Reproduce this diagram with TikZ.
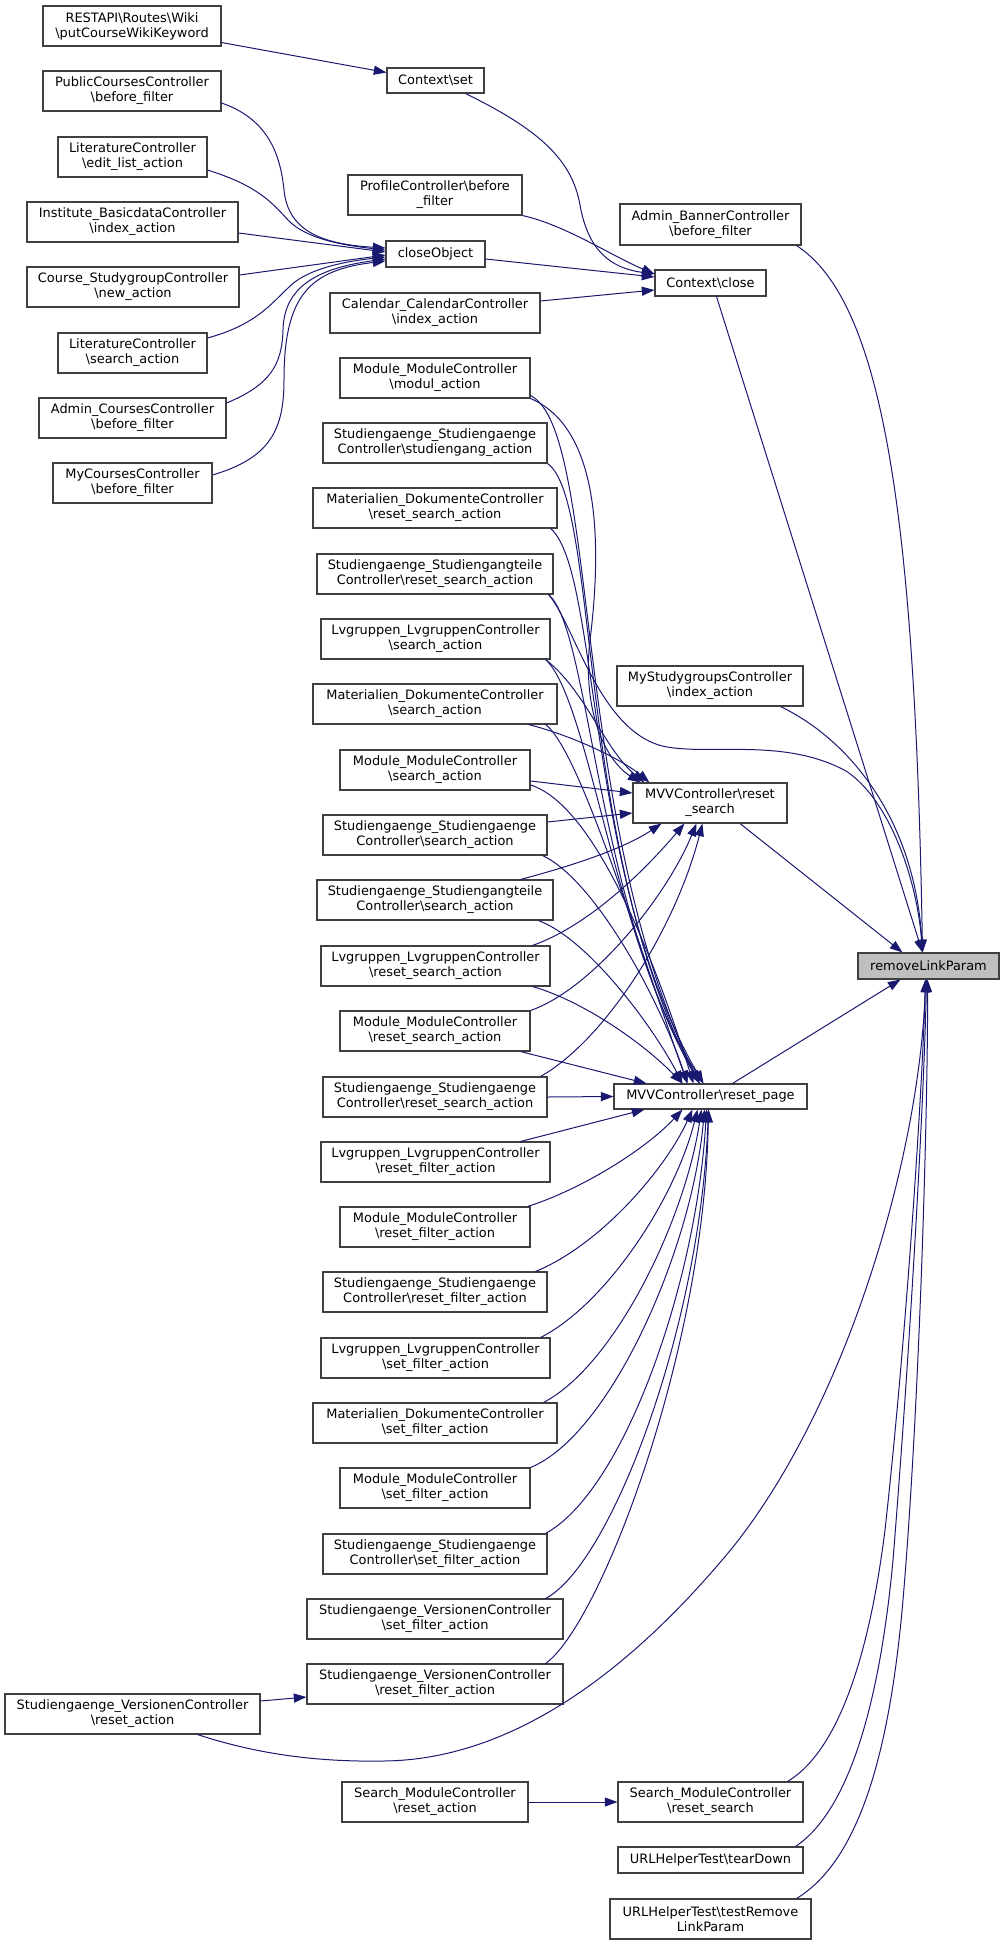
\documentclass[tikz,border=0pt]{standalone}
\usepackage{fontspec}
\setmainfont{DejaVu Sans}
\usetikzlibrary{arrows.meta,calc}
\definecolor{edgeblue}{HTML}{191970}
\definecolor{boxline}{HTML}{404040}
\definecolor{boxfill}{HTML}{BFBFBF}
\newcommand\bsl{\textbackslash}
\newcommand\mybox[7][]{\node[box,#1,minimum width={(#5-#3)*0.75pt},minimum height={(#6-#4)*0.75pt}] (#2) at ({(#3+#5)/2},{(#4+#6)/2}) {#7};}
\begin{document}
\begin{tikzpicture}[x=0.75pt,y=-0.75pt,
  box/.style={draw=boxline,line width=0.8pt,fill=white,inner sep=0pt,align=center,font=\fontsize{9.7pt}{11.25pt}\selectfont},
  call/.style={draw=edgeblue,line width=0.75pt,-{Triangle[length=9.5pt,width=6.8pt]}}]
\useasboundingbox (0,0) rectangle (1004,1945);
% column 1
\mybox{rest}{43}{6}{221}{46}{RESTAPI\bsl Routes\bsl Wiki\\\bsl putCourseWikiKeyword}
\mybox{pubc}{43}{71}{221}{111}{PublicCoursesController\\\bsl before\_filter}
\mybox{litedit}{58}{137}{207}{177}{LiteratureController\\\bsl edit\_list\_action}
\mybox{inst}{27}{202}{238}{242}{Institute\_BasicdataController\\\bsl index\_action}
\mybox{cstudy}{27}{267}{239}{307}{Course\_StudygroupController\\\bsl new\_action}
\mybox{litsearch}{58}{333}{207}{373}{LiteratureController\\\bsl search\_action}
\mybox{admc}{39}{398}{226}{438}{Admin\_CoursesController\\\bsl before\_filter}
\mybox{mycourses}{53}{463}{212}{503}{MyCoursesController\\\bsl before\_filter}
\mybox{versreset}{5}{1694}{260}{1734}{Studiengaenge\_VersionenController\\\bsl reset\_action}
% column 2
\mybox{ctxset}{387}{68}{484}{93}{Context\bsl set}
\mybox{profile}{348}{175}{522}{215}{ProfileController\bsl before\\\_filter}
\mybox{closeobj}{386}{241}{485}{267}{closeObject}
\mybox{calendar}{330}{293}{540}{333}{Calendar\_CalendarController\\\bsl index\_action}
\mybox{modul}{340}{358}{530}{398}{Module\_ModuleController\\\bsl modul\_action}
\mybox{studiengang}{323}{423}{547}{463}{Studiengaenge\_Studiengaenge\\Controller\bsl studiengang\_action}
\mybox{matreset}{313}{488}{557}{528}{Materialien\_DokumenteController\\\bsl reset\_search\_action}
\mybox{teilereset}{317}{554}{553}{594}{Studiengaenge\_Studiengangteile\\Controller\bsl reset\_search\_action}
\mybox{lvsearch}{321}{619}{550}{659}{Lvgruppen\_LvgruppenController\\\bsl search\_action}
\mybox{matsearch}{313}{684}{557}{724}{Materialien\_DokumenteController\\\bsl search\_action}
\mybox{modsearch}{340}{750}{530}{790}{Module\_ModuleController\\\bsl search\_action}
\mybox{stusearch}{323}{815}{547}{855}{Studiengaenge\_Studiengaenge\\Controller\bsl search\_action}
\mybox{teilesearch}{317}{880}{553}{920}{Studiengaenge\_Studiengangteile\\Controller\bsl search\_action}
\mybox{lvreset}{321}{946}{550}{986}{Lvgruppen\_LvgruppenController\\\bsl reset\_search\_action}
\mybox{modreset}{340}{1011}{530}{1051}{Module\_ModuleController\\\bsl reset\_search\_action}
\mybox{stureset}{323}{1077}{547}{1117}{Studiengaenge\_Studiengaenge\\Controller\bsl reset\_search\_action}
\mybox{lvrfilter}{321}{1142}{550}{1182}{Lvgruppen\_LvgruppenController\\\bsl reset\_filter\_action}
\mybox{modrfilter}{340}{1207}{530}{1247}{Module\_ModuleController\\\bsl reset\_filter\_action}
\mybox{sturfilter}{323}{1272}{547}{1312}{Studiengaenge\_Studiengaenge\\Controller\bsl reset\_filter\_action}
\mybox{lvsfilter}{321}{1338}{550}{1378}{Lvgruppen\_LvgruppenController\\\bsl set\_filter\_action}
\mybox{matsfilter}{313}{1403}{557}{1443}{Materialien\_DokumenteController\\\bsl set\_filter\_action}
\mybox{modsfilter}{340}{1468}{530}{1508}{Module\_ModuleController\\\bsl set\_filter\_action}
\mybox{stusfilter}{323}{1534}{547}{1574}{Studiengaenge\_Studiengaenge\\Controller\bsl set\_filter\_action}
\mybox{verssfilter}{307}{1599}{563}{1639}{Studiengaenge\_VersionenController\\\bsl set\_filter\_action}
\mybox{versrfilter}{307}{1664}{563}{1704}{Studiengaenge\_VersionenController\\\bsl reset\_filter\_action}
\mybox{smreset}{342}{1782}{528}{1822}{Search\_ModuleController\\\bsl reset\_action}
% column 3
\mybox{banner}{620}{204}{801}{245}{Admin\_BannerController\\\bsl before\_filter}
\mybox{ctxclose}{655}{270}{766}{296}{Context\bsl close}
\mybox{mystudy}{617}{666}{803}{706}{MyStudygroupsController\\\bsl index\_action}
\mybox{mvvsearch}{633}{783}{787}{823}{MVVController\bsl reset\\\_search}
\mybox{mvvpage}{614}{1084}{807}{1109}{MVVController\bsl reset\_page}
\mybox{smsearch}{618}{1782}{803}{1822}{Search\_ModuleController\\\bsl reset\_search}
\mybox{teardown}{618}{1847}{803}{1873}{URLHelperTest\bsl tearDown}
\mybox{testremove}{610}{1899}{811}{1939}{URLHelperTest\bsl testRemove\\LinkParam}
% target
\mybox[fill=boxfill]{rlp}{858}{953}{999}{979}{removeLinkParam}
% convergence points
\coordinate (cc0) at ($(ctxclose.west)+(0,-9)$);
\coordinate (cc1) at ($(ctxclose.west)+(0,-6)$);
\coordinate (cc2) at ($(ctxclose.west)+(0,7)$);
\coordinate (rT0) at ($(rlp.north)+(-26,0)$);
\coordinate (rT1) at ($(rlp.north)+(-6,0)$);
\coordinate (rB0) at ($(rlp.south)+(-28,0)$);
\coordinate (rB1) at ($(rlp.south)+(-3,0)$);
\coordinate (sT1) at ($(mvvsearch.north west)+(8,0)$);
\coordinate (sT2) at ($(mvvsearch.north west)+(12,0)$);
\coordinate (sT3) at ($(mvvsearch.north west)+(17,0)$);
\coordinate (sL1) at ($(mvvsearch.west)+(0,-10)$);
\coordinate (sL2) at ($(mvvsearch.west)+(0,10)$);
\coordinate (sB1) at ($(mvvsearch.south west)+(29,0)$);
\coordinate (sB2) at ($(mvvsearch.south west)+(52,0)$);
\coordinate (sB3) at ($(mvvsearch.south west)+(64,0)$);
\coordinate (sB4) at ($(mvvsearch.south west)+(70,0)$);
\coordinate (pT0) at ($(mvvpage.north west)+(33,0)$);
\coordinate (pT1) at ($(mvvpage.north west)+(69,0)$);
\coordinate (pT2) at ($(mvvpage.north west)+(74,0)$);
\coordinate (pT3) at ($(mvvpage.north west)+(80,0)$);
\coordinate (pT4) at ($(mvvpage.north west)+(86,0)$);
\coordinate (pT5) at ($(mvvpage.north west)+(90,0)$);
\coordinate (pB0) at ($(mvvpage.south west)+(31,0)$);
\coordinate (pB1) at ($(mvvpage.south west)+(69,0)$);
\coordinate (pB2) at ($(mvvpage.south west)+(79,0)$);
\coordinate (pB3) at ($(mvvpage.south west)+(84,0)$);
\coordinate (pB4) at ($(mvvpage.south west)+(88,0)$);
\coordinate (pB5) at ($(mvvpage.south west)+(91,0)$);
\coordinate (pB6) at ($(mvvpage.south west)+(93,0)$);
\coordinate (pB7) at ($(mvvpage.south west)+(95,0)$);
% top part
\draw[call] ($(rest.south east)+(0,-4)$) -- ($(ctxset.west)+(0,-8)$);
\draw[call] ($(ctxset.south east)+(-19,0)$) .. controls (540,130) and (572,160) .. (580,205) .. controls (588,250) and (610,268) .. (cc0);
\draw[call] (profile.south east) .. controls (565,225) and (610,255) .. (cc0);
\draw[call] ($(closeobj.east)+(0,5)$) -- (cc1);
\draw[call] ($(calendar.east)+(0,-12)$) -- (cc2);
\draw[call] ($(pubc.east)+(0,12)$) .. controls (265,118) and (280,150) .. (284,190) .. controls (288,230) and (320,244) .. ($(closeobj.west)+(0,-6)$);
\draw[call] ($(litedit.east)+(0,13)$) .. controls (255,185) and (270,200) .. (288,220) .. controls (305,238) and (340,245) .. ($(closeobj.west)+(0,-4)$);
\draw[call] ($(inst.east)+(0,11)$) -- ($(closeobj.west)+(0,-2)$);
\draw[call] ($(cstudy.east)+(0,-12)$) -- ($(closeobj.west)+(0,1)$);
\draw[call] ($(litsearch.east)+(0,-15)$) .. controls (255,325) and (270,305) .. (288,288) .. controls (305,270) and (340,262) .. ($(closeobj.west)+(0,3)$);
\draw[call] ($(admc.east)+(0,-15)$) .. controls (270,385) and (282,365) .. (283,330) .. controls (284,285) and (320,268) .. ($(closeobj.west)+(0,5)$);
\draw[call] ($(mycourses.east)+(0,-8)$) .. controls (270,458) and (284,430) .. (284,380) .. controls (284,295) and (310,270) .. ($(closeobj.west)+(0,7)$);
% into removeLinkParam
\draw[call] ($(ctxclose.south)+(6,0)$) -- (rT1);
\draw[call] ($(banner.south east)+(-5,0)$) .. controls (880,300) and (915,500) .. (rT1);
\draw[call] ($(mystudy.south east)+(-23,0)$) .. controls (850,740) and (915,820) .. (rT1);
\draw[call] ($(teilereset.south east)+(-5,0)$) .. controls (575,625) and (600,735) .. (667,747) .. controls (715,755) and (785,738) .. (846,771) .. controls (890,800) and (917,880) .. (rT1);
\draw[call] ($(mvvsearch.south)+(30,0)$) -- (rT0);
\draw[call] ($(mvvpage.north)+(22,0)$) -- (rB0);
\draw[call] ($(versreset.south)+(65,0)$) .. controls (260,1755) and (320,1762) .. (383,1761) .. controls (520,1760) and (640,1660) .. (733,1547) .. controls (850,1400) and (920,1150) .. (rB1);
\draw[call] ($(versreset.east)+(0,-13)$) -- ($(versrfilter.west)+(0,13)$);
\draw[call] (smreset) -- (smsearch);
\draw[call] ($(smsearch.north east)+(-16,0)$) .. controls (840,1750) and (870,1650) .. (885,1530) .. controls (905,1350) and (922,1100) .. (rB1);
\draw[call] ($(teardown.north east)+(-8,0)$) .. controls (850,1810) and (880,1700) .. (893,1560) .. controls (910,1350) and (924,1100) .. ($(rlp.south)+(-2,0)$);
\draw[call] ($(testremove.north east)+(-15,0)$) .. controls (860,1860) and (890,1750) .. (903,1600) .. controls (920,1400) and (928,1100) .. ($(rlp.south)+(-1,0)$);
% into MVVController\reset_search
\draw[call] (modul.south east) .. controls (605,430) and (600,560) .. (590,640) .. controls (582,710) and (605,760) .. (sT1);
\draw[call] ($(lvsearch.south east)+(-5,0)$) .. controls (585,690) and (605,750) .. (sT2);
\draw[call] ($(matsearch.south east)+(-29,0)$) .. controls (570,735) and (620,758) .. (sT3);
\draw[call] ($(modsearch.east)+(0,11)$) -- (sL1);
\draw[call] ($(stusearch.east)+(0,-13)$) -- (sL2);
\draw[call] ($(teilesearch.north east)+(-33,0)$) .. controls (575,865) and (625,848) .. (sB1);
\draw[call] ($(lvreset.north east)+(-18,0)$) .. controls (590,925) and (645,870) .. (sB2);
\draw[call] (modreset.north east) .. controls (590,990) and (665,900) .. (sB3);
\draw[call] ($(stureset.north east)+(-7,0)$) .. controls (605,1040) and (675,930) .. (sB4);
% into MVVController\reset_page from above
\draw[call] ($(modul.south east)+(0,-3)$) .. controls (600,430) and (570,820) .. (pT4);
\draw[call] (studiengang.south east) .. controls (600,500) and (575,850) .. (pT4);
\draw[call] ($(matreset.south east)+(-7,0)$) .. controls (600,570) and (585,880) .. (pT5);
\draw[call] ($(teilereset.south east)+(-5,0)$) .. controls (590,630) and (595,900) .. (pT4);
\draw[call] ($(lvsearch.south east)+(-5,0)$) .. controls (590,700) and (615,950) .. (pT5);
\draw[call] ($(matsearch.south east)+(-12,0)$) .. controls (580,750) and (640,950) .. (pT2);
\draw[call] ($(modsearch.east)+(0,15)$) .. controls (595,805) and (655,960) .. (pT3);
\draw[call] ($(stusearch.south east)+(-5,0)$) .. controls (595,880) and (660,1000) .. (pT2);
\draw[call] ($(teilesearch.south east)+(-15,0)$) .. controls (590,940) and (655,1030) .. (pT1);
\draw[call] ($(lvreset.south east)+(-18,0)$) .. controls (580,1000) and (640,1040) .. (pT1);
\draw[call] ($(modreset.south east)+(-10,0)$) -- (pT0);
\draw[call] (stureset.east) -- (mvvpage.west);
% into MVVController\reset_page from below
\draw[call] ($(lvrfilter.north east)+(-30,0)$) -- (pB0);
\draw[call] ($(modrfilter.north east)+(-3,0)$) .. controls (580,1190) and (645,1150) .. (pB1);
\draw[call] ($(sturfilter.north east)+(-12,0)$) .. controls (600,1245) and (665,1170) .. (pB2);
\draw[call] ($(lvsfilter.north east)+(-10,0)$) .. controls (605,1305) and (675,1200) .. (pB3);
\draw[call] ($(matsfilter.north east)+(-14,0)$) .. controls (615,1365) and (685,1220) .. (pB4);
\draw[call] (modsfilter.north east) .. controls (610,1435) and (692,1250) .. (pB5);
\draw[call] ($(stusfilter.north east)+(-2,0)$) .. controls (625,1490) and (697,1280) .. (pB6);
\draw[call] ($(verssfilter.north east)+(-18,0)$) .. controls (610,1565) and (700,1330) .. (pB7);
\draw[call] ($(versrfilter.north east)+(-18,0)$) .. controls (600,1625) and (705,1350) .. (pB7);
\end{tikzpicture}
\end{document}
